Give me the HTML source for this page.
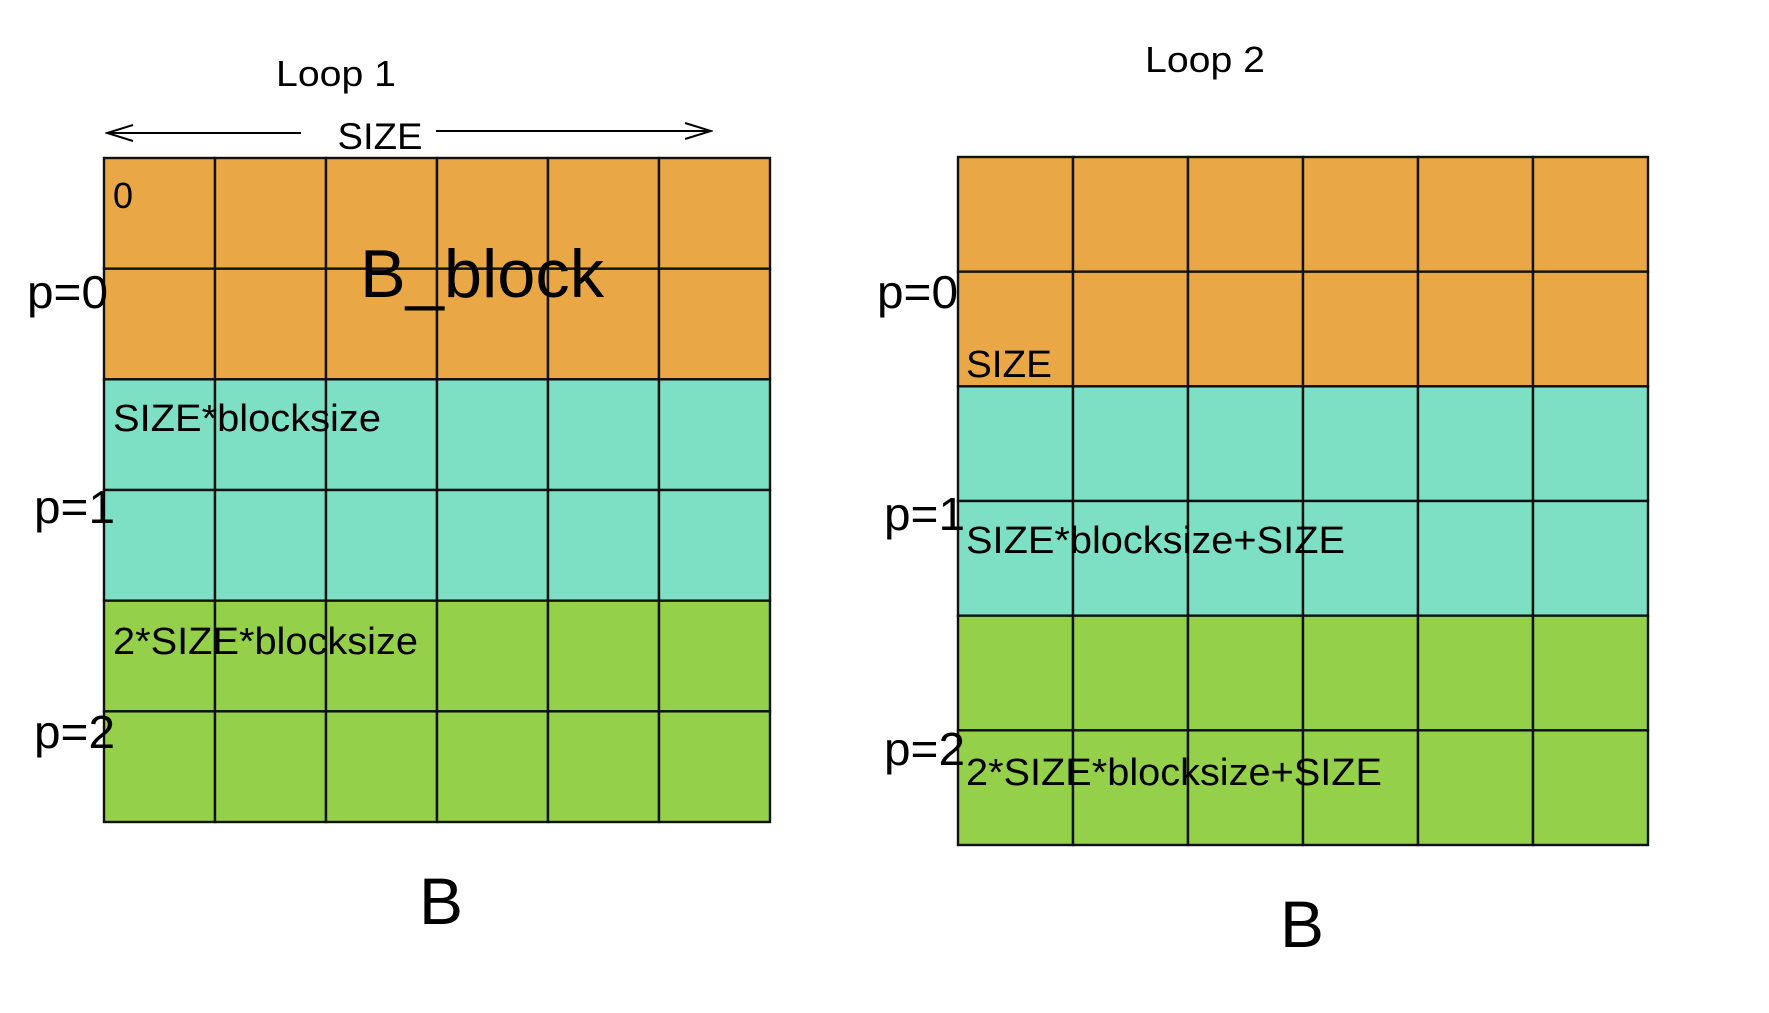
<!DOCTYPE html>
<html><head><meta charset="utf-8"><style>
body{margin:0;background:#fff}
svg{display:block;font-family:"Liberation Sans",sans-serif}
</style></head><body>
<svg id="s" width="1769" height="1013" viewBox="0 0 1769 1013">
<defs><marker id="ah" markerWidth="30" markerHeight="20" refX="28" refY="10" orient="auto" markerUnits="userSpaceOnUse"><path d="M2,2 L28,10 L2,18" fill="none" stroke="#000" stroke-width="2"/></marker></defs>
<g id="g1"></g>
<g id="g2"></g>
<text x="336" y="86" font-size="36" text-anchor="middle" textLength="120" lengthAdjust="spacingAndGlyphs">Loop 1</text>
<text x="1205" y="72" font-size="36" text-anchor="middle" textLength="120" lengthAdjust="spacingAndGlyphs">Loop 2</text>
<line x1="301" y1="133" x2="107" y2="133" stroke="#000" stroke-width="2" marker-end="url(#ah)"/>
<line x1="436" y1="131" x2="711" y2="131" stroke="#000" stroke-width="2" marker-end="url(#ah)"/>
<text x="380" y="149" font-size="37" text-anchor="middle" textLength="85" lengthAdjust="spacingAndGlyphs">SIZE</text>
<text x="113" y="208" font-size="36">0</text>
<text x="482" y="297" font-size="68" text-anchor="middle" textLength="244" lengthAdjust="spacingAndGlyphs">B_block</text>
<text x="27" y="308" font-size="46" textLength="81" lengthAdjust="spacingAndGlyphs">p=0</text>
<text x="34" y="523" font-size="46" textLength="81" lengthAdjust="spacingAndGlyphs">p=1</text>
<text x="34" y="748" font-size="46" textLength="81" lengthAdjust="spacingAndGlyphs">p=2</text>
<text x="113" y="431" font-size="38" textLength="268" lengthAdjust="spacingAndGlyphs">SIZE*blocksize</text>
<text x="113" y="654" font-size="38" textLength="305" lengthAdjust="spacingAndGlyphs">2*SIZE*blocksize</text>
<text x="441" y="924" font-size="66" text-anchor="middle">B</text>
<text x="877" y="308" font-size="46" textLength="81" lengthAdjust="spacingAndGlyphs">p=0</text>
<text x="884" y="530" font-size="46" textLength="81" lengthAdjust="spacingAndGlyphs">p=1</text>
<text x="884" y="765" font-size="46" textLength="81" lengthAdjust="spacingAndGlyphs">p=2</text>
<text x="966" y="377" font-size="38" textLength="86" lengthAdjust="spacingAndGlyphs">SIZE</text>
<text x="966" y="553" font-size="38" textLength="379" lengthAdjust="spacingAndGlyphs">SIZE*blocksize+SIZE</text>
<text x="966" y="785" font-size="38" textLength="416" lengthAdjust="spacingAndGlyphs">2*SIZE*blocksize+SIZE</text>
<text x="1302" y="947" font-size="66" text-anchor="middle">B</text>
</svg>
<script>
const rowColors = ["#E9A845","#E9A845","#7DE0C4","#7DE0C4","#94D04A","#94D04A"];
const colCount = 6;
function grid(id, x0, y0, x1, y1){
  const g=document.getElementById(id), ns="http://www.w3.org/2000/svg";
  const cw=(x1-x0)/colCount, rh=(y1-y0)/rowColors.length;
  rowColors.forEach((c,r)=>{for(let k=0;k<colCount;k++){
    const el=document.createElementNS(ns,"rect");
    el.setAttribute("x",x0+k*cw);el.setAttribute("y",y0+r*rh);
    el.setAttribute("width",cw);el.setAttribute("height",rh);
    el.setAttribute("fill",c);el.setAttribute("stroke","#111");el.setAttribute("stroke-width","2.4");
    
    
    g.appendChild(el);
  }});
}
grid("g1",104,158,770,822);
grid("g2",958,157,1648,845);
</script>
</body></html>
